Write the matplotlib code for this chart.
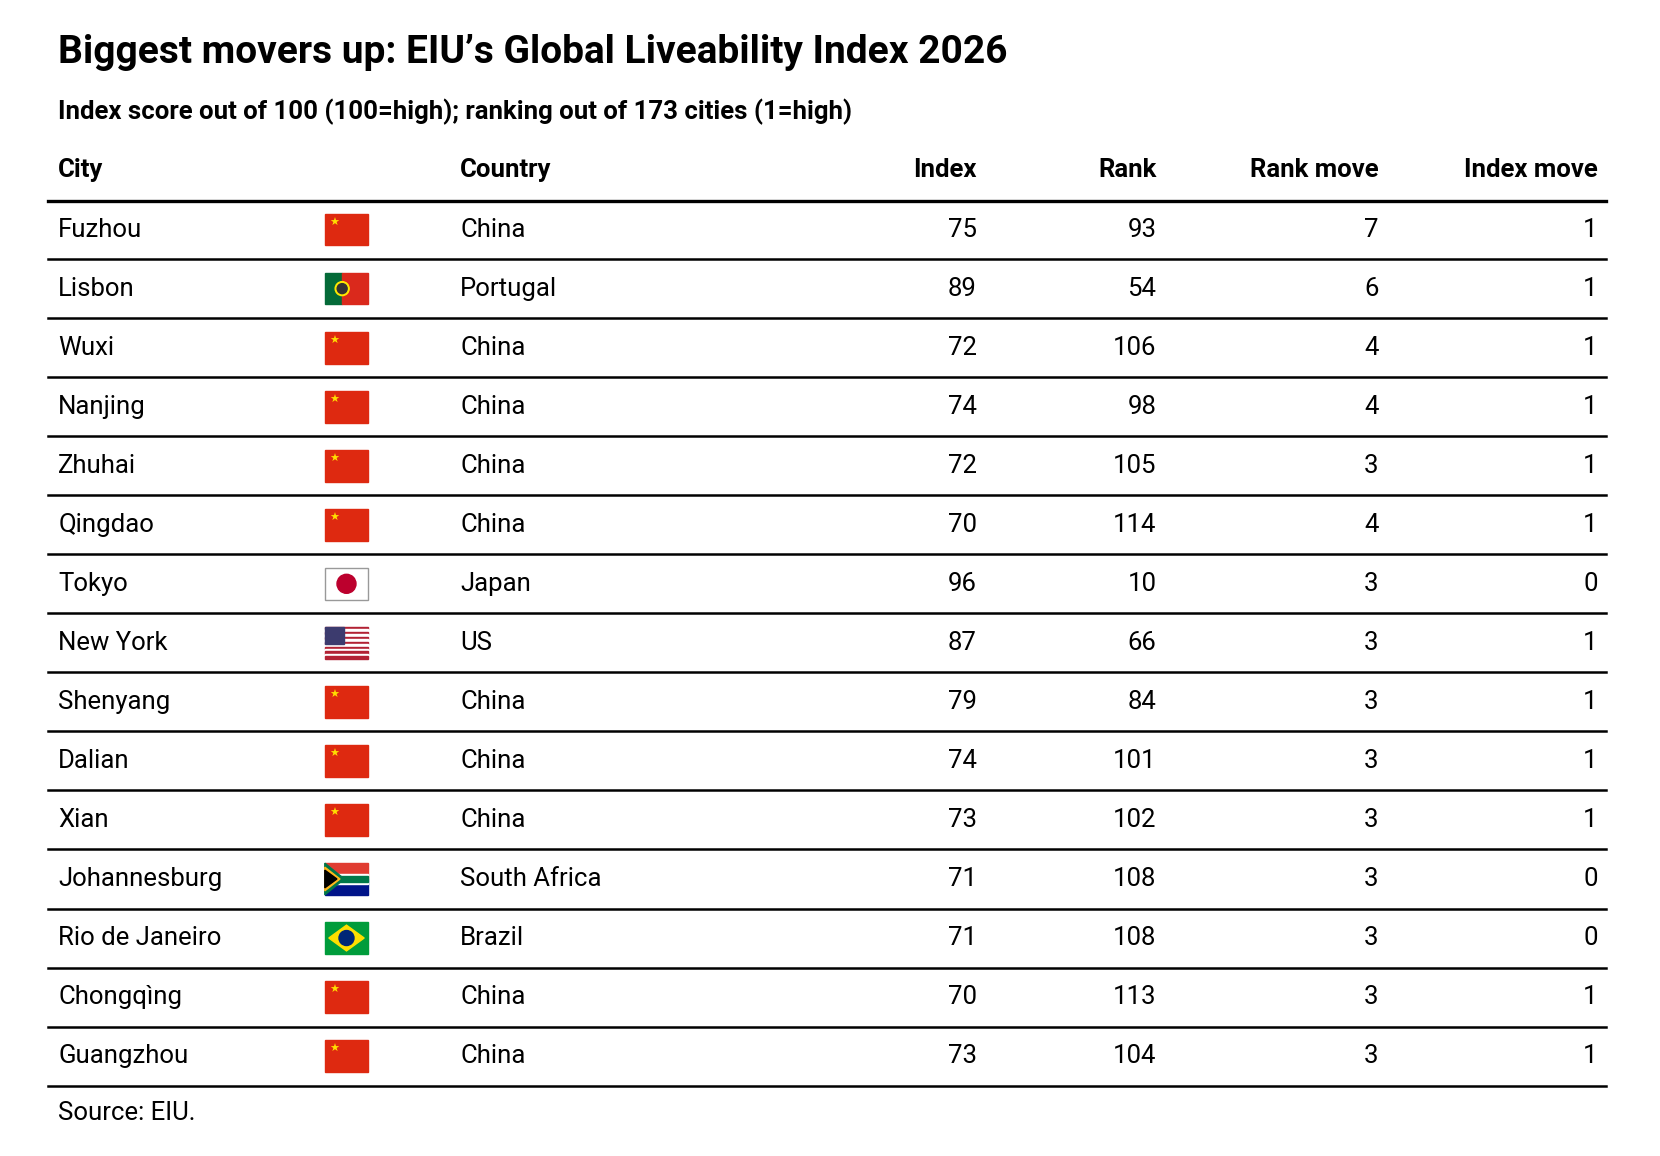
import matplotlib
matplotlib.use("Agg")
import matplotlib.pyplot as plt
from matplotlib.patches import Rectangle, Circle, Polygon

cities = ["Fuzhou","Lisbon","Wuxi","Nanjing","Zhuhai","Qingdao","Tokyo","New York","Shenyang","Dalian","Xian","Johannesburg","Rio de Janeiro","Chongqìng","Guangzhou"]
countries = ["China","Portugal","China","China","China","China","Japan","US","China","China","China","South Africa","Brazil","China","China"]
index = [75,89,72,74,72,70,96,87,79,74,73,71,71,70,73]
rank = [93,54,106,98,105,114,10,66,84,101,102,108,108,113,104]
rank_move = [7,6,4,4,3,4,3,3,3,3,3,3,3,3,3]
index_move = [1,1,1,1,1,1,0,1,1,1,1,0,0,1,1]
headers = ["City","Country","Index","Rank","Rank move","Index move"]

W, H = 1660, 1156
S = 1660/1569
fig = plt.figure(figsize=(W/100, H/100), dpi=100)
ax = fig.add_axes([0,0,1,1])
ax.set_xlim(0, W); ax.set_ylim(H, 0); ax.axis("off")
FAM = ["Roboto", "DejaVu Sans"]

def T(x, y, s, **kw):
    ax.text(x*S, y*S, s, family=FAM, va="center", **kw)

T(55, 50, "Biggest movers up: EIU’s Global Liveability Index 2026", fontsize=28, fontweight="bold")
T(55, 106, "Index score out of 100 (100=high); ranking out of 173 cities (1=high)", fontsize=18.5, fontweight="bold")
hx = [55, 435, 923, 1093, 1303, 1510]
ha = ["left","left","right","right","right","right"]
for x, h, a in zip(hx, headers, ha):
    T(x, 161, h, fontsize=18.5, fontweight="bold", ha=a)
ax.plot([45*S, 1518*S], [190*S, 190*S], color="black", lw=2.4)

def flag(c, x, y):
    w, h = 41*S, 30*S
    x = x*S; y = y*S
    y0 = y - h/2
    if c == "China":
        ax.add_patch(Rectangle((x, y0), w, h, color="#de2910"))
        ax.text(x+9, y0+9, "★", color="#ffde00", fontsize=8, ha="center", va="center")
    elif c == "Portugal":
        ax.add_patch(Rectangle((x, y0), w*0.4, h, color="#046a38"))
        ax.add_patch(Rectangle((x+w*0.4, y0), w*0.6, h, color="#da291c"))
        ax.add_patch(Circle((x+w*0.4, y), 7, color="#ffe900", zorder=3))
        ax.add_patch(Circle((x+w*0.4, y), 5, color="#333", zorder=4))
    elif c == "Japan":
        ax.add_patch(Rectangle((x, y0), w, h, facecolor="white", edgecolor="#999", lw=1))
        ax.add_patch(Circle((x+w/2, y), 9.5, color="#bc002d"))
    elif c == "US":
        for i in range(13):
            ax.add_patch(Rectangle((x, y0+i*h/13), w, h/13, color="#b22234" if i % 2 == 0 else "white"))
        ax.add_patch(Rectangle((x, y0), w*0.45, h*7/13, color="#3c3b6e"))
    elif c == "South Africa":
        ax.add_patch(Rectangle((x, y0), w, h/2, color="#e03c31"))
        ax.add_patch(Rectangle((x, y), w, h/2, color="#001489"))
        ax.add_patch(Rectangle((x, y-5), w, 10, color="white"))
        ax.add_patch(Rectangle((x, y-3), w, 6, color="#007749"))
        ax.add_patch(Polygon([(x, y0), (x+w*0.45, y), (x, y0+h)], color="#007749"))
        ax.add_patch(Polygon([(x, y0+4), (x+w*0.35, y), (x, y0+h-4)], color="#ffb81c"))
        ax.add_patch(Polygon([(x, y0+7), (x+w*0.28, y), (x, y0+h-7)], color="black"))
    elif c == "Brazil":
        ax.add_patch(Rectangle((x, y0), w, h, color="#009c3b"))
        ax.add_patch(Polygon([(x+4, y), (x+w/2, y0+3), (x+w-4, y), (x+w/2, y0+h-3)], color="#ffdf00"))
        ax.add_patch(Circle((x+w/2, y), 7.5, color="#002776"))

row_h = 55.8
for i in range(len(cities)):
    y = 217 + i*row_h
    T(55, y, cities[i], fontsize=18.5)
    flag(countries[i], 307, y)
    T(435, y, countries[i], fontsize=18.5)
    for x, v in zip(hx[2:], [index[i], rank[i], rank_move[i], index_move[i]]):
        T(x, y, str(v), fontsize=18.5, ha="right")
    ly = (y + row_h/2)*S
    ax.plot([45*S, 1518*S], [ly, ly], color="black", lw=1.8)

T(55, 1052, "Source: EIU.", fontsize=18.5)
fig.savefig("out.png", dpi=100, facecolor="white")
